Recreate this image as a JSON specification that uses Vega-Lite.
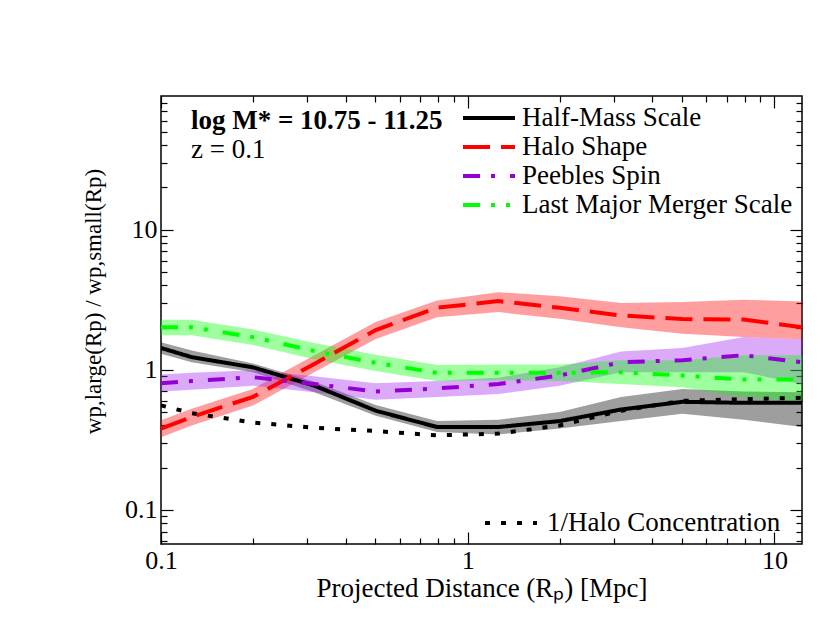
{
  "$schema": "https://vega.github.io/schema/vega-lite/v6.json",
  "width": 641,
  "height": 448,
  "autosize": "none",
  "padding": {"left": 161, "top": 96, "right": 28, "bottom": 98},
  "background": "white",
  "datasets": {
    "wp": [
      {"x": 0.1, "series": "Half-Mass Scale", "y": 1.43, "lo": 1.30, "hi": 1.57},
      {"x": 0.1259, "series": "Half-Mass Scale", "y": 1.23, "lo": 1.13, "hi": 1.37},
      {"x": 0.1995, "series": "Half-Mass Scale", "y": 1.04, "lo": 0.96, "hi": 1.11},
      {"x": 0.3162, "series": "Half-Mass Scale", "y": 0.77, "lo": 0.69, "hi": 0.82},
      {"x": 0.5012, "series": "Half-Mass Scale", "y": 0.51, "lo": 0.47, "hi": 0.56},
      {"x": 0.7943, "series": "Half-Mass Scale", "y": 0.39, "lo": 0.36, "hi": 0.43},
      {"x": 1.259, "series": "Half-Mass Scale", "y": 0.39, "lo": 0.345, "hi": 0.44},
      {"x": 1.995, "series": "Half-Mass Scale", "y": 0.43, "lo": 0.38, "hi": 0.50},
      {"x": 3.162, "series": "Half-Mass Scale", "y": 0.52, "lo": 0.43, "hi": 0.64},
      {"x": 5.012, "series": "Half-Mass Scale", "y": 0.59, "lo": 0.485, "hi": 0.73},
      {"x": 7.943, "series": "Half-Mass Scale", "y": 0.58, "lo": 0.44, "hi": 0.70},
      {"x": 12.3, "series": "Half-Mass Scale", "y": 0.58, "lo": 0.39, "hi": 0.69},
      {"x": 0.1, "series": "Halo Shape", "y": 0.38, "lo": 0.33, "hi": 0.435},
      {"x": 0.1259, "series": "Halo Shape", "y": 0.46, "lo": 0.40, "hi": 0.527},
      {"x": 0.1995, "series": "Halo Shape", "y": 0.64, "lo": 0.556, "hi": 0.73},
      {"x": 0.3162, "series": "Halo Shape", "y": 1.1, "lo": 0.96, "hi": 1.27},
      {"x": 0.5012, "series": "Halo Shape", "y": 1.92, "lo": 1.66, "hi": 2.19},
      {"x": 0.7943, "series": "Halo Shape", "y": 2.77, "lo": 2.37, "hi": 3.12},
      {"x": 1.259, "series": "Halo Shape", "y": 3.09, "lo": 2.58, "hi": 3.58},
      {"x": 1.995, "series": "Halo Shape", "y": 2.77, "lo": 2.31, "hi": 3.34},
      {"x": 3.162, "series": "Halo Shape", "y": 2.44, "lo": 2.01, "hi": 2.99},
      {"x": 5.012, "series": "Halo Shape", "y": 2.30, "lo": 1.81, "hi": 3.04},
      {"x": 7.943, "series": "Halo Shape", "y": 2.28, "lo": 1.71, "hi": 3.16},
      {"x": 12.3, "series": "Halo Shape", "y": 2.01, "lo": 1.65, "hi": 3.07},
      {"x": 0.1, "series": "Peebles Spin", "y": 0.80, "lo": 0.70, "hi": 0.926},
      {"x": 0.1259, "series": "Peebles Spin", "y": 0.83, "lo": 0.72, "hi": 0.95},
      {"x": 0.1995, "series": "Peebles Spin", "y": 0.885, "lo": 0.77, "hi": 0.99},
      {"x": 0.3162, "series": "Peebles Spin", "y": 0.79, "lo": 0.69, "hi": 0.90},
      {"x": 0.5012, "series": "Peebles Spin", "y": 0.70, "lo": 0.61, "hi": 0.80},
      {"x": 0.7943, "series": "Peebles Spin", "y": 0.735, "lo": 0.64, "hi": 0.83},
      {"x": 1.259, "series": "Peebles Spin", "y": 0.79, "lo": 0.67, "hi": 0.877},
      {"x": 1.995, "series": "Peebles Spin", "y": 0.91, "lo": 0.77, "hi": 1.04},
      {"x": 3.162, "series": "Peebles Spin", "y": 1.13, "lo": 0.96, "hi": 1.35},
      {"x": 5.012, "series": "Peebles Spin", "y": 1.17, "lo": 0.96, "hi": 1.43},
      {"x": 7.943, "series": "Peebles Spin", "y": 1.27, "lo": 0.96, "hi": 1.71},
      {"x": 12.3, "series": "Peebles Spin", "y": 1.13, "lo": 0.79, "hi": 1.65},
      {"x": 0.1, "series": "Last Major Merger Scale", "y": 2.01, "lo": 1.76, "hi": 2.27},
      {"x": 0.1259, "series": "Last Major Merger Scale", "y": 2.01, "lo": 1.76, "hi": 2.27},
      {"x": 0.1995, "series": "Last Major Merger Scale", "y": 1.71, "lo": 1.50, "hi": 1.94},
      {"x": 0.3162, "series": "Last Major Merger Scale", "y": 1.36, "lo": 1.19, "hi": 1.55},
      {"x": 0.5012, "series": "Last Major Merger Scale", "y": 1.12, "lo": 0.98, "hi": 1.28},
      {"x": 0.7943, "series": "Last Major Merger Scale", "y": 0.95, "lo": 0.83, "hi": 1.08},
      {"x": 1.259, "series": "Last Major Merger Scale", "y": 0.95, "lo": 0.84, "hi": 1.09},
      {"x": 1.995, "series": "Last Major Merger Scale", "y": 0.95, "lo": 0.83, "hi": 1.09},
      {"x": 3.162, "series": "Last Major Merger Scale", "y": 0.96, "lo": 0.79, "hi": 1.17},
      {"x": 5.012, "series": "Last Major Merger Scale", "y": 0.91, "lo": 0.75, "hi": 1.17},
      {"x": 7.943, "series": "Last Major Merger Scale", "y": 0.85, "lo": 0.64, "hi": 1.27},
      {"x": 12.3, "series": "Last Major Merger Scale", "y": 0.85, "lo": 0.59, "hi": 1.27},
      {"x": 0.1, "series": "1/Halo Concentration", "y": 0.556},
      {"x": 0.1259, "series": "1/Halo Concentration", "y": 0.49},
      {"x": 0.1995, "series": "1/Halo Concentration", "y": 0.42},
      {"x": 0.3162, "series": "1/Halo Concentration", "y": 0.385},
      {"x": 0.5012, "series": "1/Halo Concentration", "y": 0.365},
      {"x": 0.7943, "series": "1/Halo Concentration", "y": 0.34},
      {"x": 1.259, "series": "1/Halo Concentration", "y": 0.35},
      {"x": 1.995, "series": "1/Halo Concentration", "y": 0.40},
      {"x": 3.162, "series": "1/Halo Concentration", "y": 0.51},
      {"x": 5.012, "series": "1/Halo Concentration", "y": 0.60},
      {"x": 7.943, "series": "1/Halo Concentration", "y": 0.617},
      {"x": 12.3, "series": "1/Halo Concentration", "y": 0.63}
    ]
  },
  "data": {"name": "wp"},
  "layer": [
    {
      "transform": [{"filter": "datum.lo != null"}],
      "mark": {"type": "area", "opacity": 0.38, "clip": true},
      "encoding": {
        "x": {
          "field": "x", "type": "quantitative",
          "scale": {"type": "log", "domain": [0.1, 12.3]},
          "axis": {
            "orient": "bottom",
            "title": "Projected Distance (Rₚ) [Mpc]",
            "values": [0.1, 0.2, 0.3, 0.4, 0.5, 0.6, 0.7, 0.8, 0.9, 1, 2, 3, 4, 5, 6, 7, 8, 9, 10],
            "labelExpr": "abs(log(datum.value)/LN10 - round(log(datum.value)/LN10)) < 1e-6 ? format(datum.value, '~g') : ''",
            "tickSize": {"condition": {"test": "abs(log(datum.value)/LN10 - round(log(datum.value)/LN10)) < 1e-6", "value": -12}, "value": -6},
            "labelFlush": false,
            "labelPadding": 15,
            "titlePadding": 2
          }
        },
        "y": {
          "field": "lo", "type": "quantitative",
          "scale": {"type": "log", "domain": [0.057, 90]},
          "axis": {
            "orient": "left",
            "title": "wp,large(Rp) / wp,small(Rp)",
            "titleY": 205,
            "titleFontSize": 23,
            "values": [0.06, 0.07, 0.08, 0.09, 0.1, 0.2, 0.3, 0.4, 0.5, 0.6, 0.7, 0.8, 0.9, 1, 2, 3, 4, 5, 6, 7, 8, 9, 10, 20, 30, 40, 50, 60, 70, 80],
            "labelExpr": "abs(log(datum.value)/LN10 - round(log(datum.value)/LN10)) < 1e-6 ? format(datum.value, '~g') : ''",
            "tickSize": {"condition": {"test": "abs(log(datum.value)/LN10 - round(log(datum.value)/LN10)) < 1e-6", "value": -12}, "value": -6},
            "labelFlush": false,
            "labelPadding": 16,
            "titlePadding": 19
          }
        },
        "y2": {"field": "hi"},
        "fill": {
          "field": "series", "type": "nominal",
          "scale": {
            "domain": ["Half-Mass Scale", "Halo Shape", "Peebles Spin", "Last Major Merger Scale"],
            "range": ["#000000", "#ff0000", "#a020f0", "#00ff00"]
          },
          "legend": null
        }
      }
    },
    {
      "transform": [{"filter": "datum.series == '1/Halo Concentration'"}],
      "mark": {"type": "line", "strokeWidth": 4, "strokeCap": "butt", "clip": true},
      "encoding": {
        "x": {"field": "x", "type": "quantitative", "scale": {"type": "log", "domain": [0.1, 12.3]}, "axis": null},
        "y": {"field": "y", "type": "quantitative", "scale": {"type": "log", "domain": [0.057, 90]}, "axis": null},
        "color": {
          "field": "series", "type": "nominal", "title": null,
          "scale": {"domain": ["1/Halo Concentration"], "range": ["#000000"]},
          "legend": {"orient": "none", "legendX": 335, "legendY": 412, "labelOffset": 21}
        },
        "strokeDash": {
          "field": "series", "type": "nominal", "title": null,
          "scale": {"domain": ["1/Halo Concentration"], "range": [[5, 11]]},
          "legend": {"orient": "none", "legendX": 335, "legendY": 412, "labelOffset": 21}
        }
      }
    },
    {
      "transform": [{"filter": "datum.series != '1/Halo Concentration'"}],
      "mark": {"type": "line", "strokeWidth": 4, "strokeCap": "butt", "clip": true},
      "encoding": {
        "x": {
          "field": "x", "type": "quantitative",
          "scale": {"type": "log", "domain": [0.1, 12.3]},
          "axis": {
            "orient": "top", "title": null, "labels": false,
            "values": [0.1, 0.2, 0.3, 0.4, 0.5, 0.6, 0.7, 0.8, 0.9, 1, 2, 3, 4, 5, 6, 7, 8, 9, 10],
            "tickSize": {"condition": {"test": "abs(log(datum.value)/LN10 - round(log(datum.value)/LN10)) < 1e-6", "value": -12}, "value": -6}
          }
        },
        "y": {
          "field": "y", "type": "quantitative",
          "scale": {"type": "log", "domain": [0.057, 90]},
          "axis": {
            "orient": "right", "title": null, "labels": false,
            "values": [0.06, 0.07, 0.08, 0.09, 0.1, 0.2, 0.3, 0.4, 0.5, 0.6, 0.7, 0.8, 0.9, 1, 2, 3, 4, 5, 6, 7, 8, 9, 10, 20, 30, 40, 50, 60, 70, 80],
            "tickSize": {"condition": {"test": "abs(log(datum.value)/LN10 - round(log(datum.value)/LN10)) < 1e-6", "value": -12}, "value": -6}
          }
        },
        "color": {
          "field": "series", "type": "nominal", "title": null,
          "scale": {
            "domain": ["Half-Mass Scale", "Halo Shape", "Peebles Spin", "Last Major Merger Scale"],
            "range": ["#000000", "#ff0000", "#9400d3", "#00ff00"]
          },
          "legend": {"orient": "none", "legendX": 313, "legendY": 7, "labelOffset": 18}
        },
        "strokeDash": {
          "field": "series", "type": "nominal", "title": null,
          "scale": {
            "domain": ["Half-Mass Scale", "Halo Shape", "Peebles Spin", "Last Major Merger Scale"],
            "range": [[1, 0], [27, 11], [17, 11, 4, 15], [17, 11, 4, 11, 4, 15]]
          },
          "legend": {"orient": "none", "legendX": 313, "legendY": 7, "labelOffset": 18}
        }
      }
    },
    {
      "data": {"values": [{}]},
      "mark": {"type": "text", "text": "log M* = 10.75 - 11.25", "font": "Liberation Serif", "fontSize": 27, "fontWeight": "bold", "align": "left", "baseline": "middle"},
      "encoding": {
        "x": {"datum": 0.1252, "type": "quantitative", "scale": {"type": "log", "domain": [0.1, 12.3]}, "axis": null},
        "y": {"datum": 59.4, "type": "quantitative", "scale": {"type": "log", "domain": [0.057, 90]}, "axis": null}
      }
    },
    {
      "data": {"values": [{}]},
      "mark": {"type": "text", "text": "z = 0.1", "font": "Liberation Serif", "fontSize": 27, "align": "left", "baseline": "middle"},
      "encoding": {
        "x": {"datum": 0.1252, "type": "quantitative", "scale": {"type": "log", "domain": [0.1, 12.3]}, "axis": null},
        "y": {"datum": 36.8, "type": "quantitative", "scale": {"type": "log", "domain": [0.057, 90]}, "axis": null}
      }
    }
  ],
  "resolve": {
    "scale": {"color": "independent", "strokeDash": "independent"},
    "legend": {"color": "independent", "strokeDash": "independent"},
    "axis": {"x": "independent", "y": "independent"}
  },
  "config": {
    "view": {"stroke": "#000000", "strokeWidth": 1.5},
    "axis": {
      "grid": false,
      "domain": false,
      "tickColor": "#000000",
      "tickWidth": 1.2,
      "labelColor": "#000000",
      "labelFont": "Liberation Serif",
      "labelFontSize": 26,
      "titleColor": "#000000",
      "titleFont": "Liberation Serif",
      "titleFontSize": 27,
      "titleFontWeight": "normal"
    },
    "legend": {
      "labelFont": "Liberation Serif",
      "labelFontSize": 27,
      "labelColor": "#000000",
      "labelLimit": 400,
      "symbolType": "M-2,0H2",
      "symbolSize": 676,
      "symbolStrokeWidth": 4,
      "symbolFillColor": "transparent",
      "rowPadding": 1,
      "padding": 0
    }
  }
}
